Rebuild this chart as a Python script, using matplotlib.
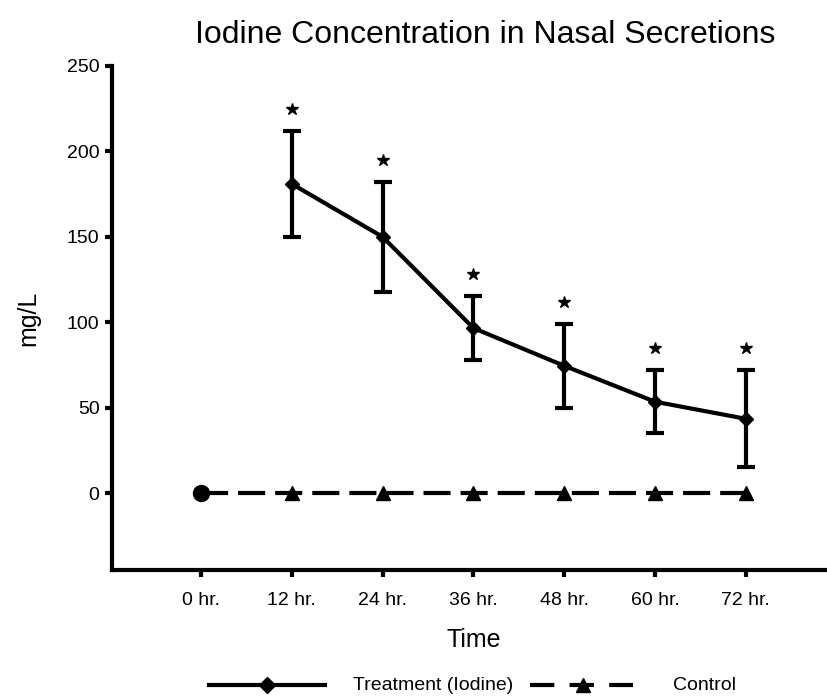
import matplotlib
matplotlib.use("Agg")
import matplotlib.pyplot as plt
from matplotlib.lines import Line2D
import numpy as np

plt.rcParams['font.family'] = ['Liberation Sans', 'DejaVu Sans']
plt.rcParams['lines.scale_dashes'] = False

# ---- data ----
time_labels = ["0 hr.", "12 hr.", "24 hr.", "36 hr.", "48 hr.", "60 hr.", "72 hr."]
treat_idx = [1, 2, 3, 4, 5, 6]
treat_mean = [181, 150, 96.6, 74.5, 53.5, 43.5]
treat_err = [31, 32, 18.7, 24.5, 18.4, 28.4]
control_vals = [0, 0, 0, 0, 0, 0, 0]
title = "Iodine Concentration in Nasal Secretions"

W, H = 827, 697
fig = plt.figure(figsize=(W / 100, H / 100), dpi=100)
ax = fig.add_axes([112 / W, 1 - 570 / H, 1 - 112 / W, (570 - 66) / H])

x_all = np.arange(len(time_labels))
lw = 3.0

# control
ax.plot(x_all, control_vals, color='black', lw=lw, dashes=(19.5, 7.2), zorder=2)
ax.plot(x_all[1:], control_vals[1:], linestyle='none', marker='^', ms=10,
        color='black', zorder=3)
ax.plot(x_all[:1], control_vals[:1], linestyle='none', marker='o', ms=11.5,
        color='black', zorder=3)

# treatment
ax.errorbar(treat_idx, treat_mean, yerr=treat_err, color='black', lw=lw,
            marker='D', ms=7, elinewidth=lw, capsize=6.5, capthick=lw, zorder=4)
# significance stars
star_y = np.array(treat_mean) + np.array(treat_err) + 13
ax.plot(treat_idx, star_y, linestyle='none', marker='*', ms=9, color='black', zorder=4)

ax.set_xlim(-0.98, 6.894)
ax.set_ylim(-45, 250)
ax.set_xticks(x_all)
ax.set_xticklabels(time_labels)
ax.set_yticks([0, 50, 100, 150, 200, 250])
for s in ['top', 'right']:
    ax.spines[s].set_visible(False)
for s in ['left', 'bottom']:
    ax.spines[s].set_linewidth(lw)
ax.tick_params(axis='both', width=lw, length=5, labelsize=14, colors='black')
ax.tick_params(axis='x', pad=10.5)
ax.tick_params(axis='y', pad=4)

fig.text(485 / W, 1 - 35 / H, title, ha='center', va='center', fontsize=23)
fig.text(474 / W, 1 - 640 / H, "Time", ha='center', va='center', fontsize=18)
fig.text(28 / W, 1 - 318 / H, "mg/L", ha='center', va='center', fontsize=18,
         rotation=90)

# legend (drawn manually at bottom)
ly = 1 - 685 / H
fig.add_artist(Line2D([209 / W, 325 / W], [ly, ly], color='black', lw=lw,
                      transform=fig.transFigure))
fig.add_artist(Line2D([267 / W], [ly], color='black', marker='D', ms=8,
                      transform=fig.transFigure))
fig.text(353 / W, ly, "Treatment (Iodine)", ha='left', va='center', fontsize=14)
fig.add_artist(Line2D([530 / W, 633 / W], [ly, ly], color='black', lw=lw,
                      dashes=(17.5, 11), transform=fig.transFigure))
fig.add_artist(Line2D([583 / W], [ly], color='black', marker='^', ms=10,
                      transform=fig.transFigure))
fig.text(673 / W, ly, "Control", ha='left', va='center', fontsize=14)

fig.savefig("out.png", dpi=100)
